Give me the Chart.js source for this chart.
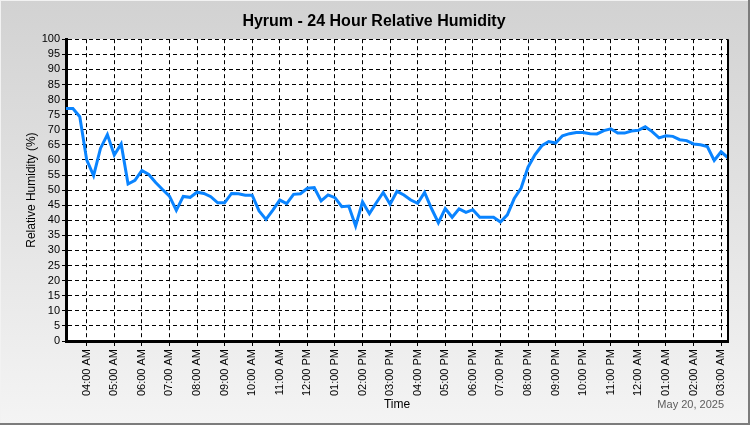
<!DOCTYPE html>
<html>
<head>
<meta charset="utf-8">
<script src="https://cdn.jsdelivr.net/npm/chart.js@4.4.1/dist/chart.umd.min.js"></script>
<style>
  html, body { margin: 0; padding: 0; background: #fff; }
  #wrap { width: 750px; height: 425px; }
</style>
</head>
<body>
<div id="wrap"><canvas id="rhChart" width="750" height="425"></canvas></div>
<script>
// readings every 15 minutes, first one at 03:15 AM
const START_HOUR = 3.25;
const STEP_HOURS = 0.25;

const hourTicks = [4, 5, 6, 7, 8, 9, 10, 11, 12, 13, 14, 15, 16, 17, 18, 19, 20, 21, 22, 23, 24, 25, 26, 27];
const hourLabels = [
  '04:00 AM', '05:00 AM', '06:00 AM', '07:00 AM', '08:00 AM', '09:00 AM', '10:00 AM', '11:00 AM',
  '12:00 PM', '01:00 PM', '02:00 PM', '03:00 PM', '04:00 PM', '05:00 PM', '06:00 PM', '07:00 PM',
  '08:00 PM', '09:00 PM', '10:00 PM', '11:00 PM', '12:00 AM', '01:00 AM', '02:00 AM', '03:00 AM'
];

const humidity = [
  77, 77, 74.3,                         // 03:15 - 03:45
  60, 54.8, 63.8, 68.4,                 // 04
  61.6, 65.3, 52, 53.2,                 // 05
  56.5, 55.2, 52.5, 50.2,               // 06
  48, 43.3, 47.9, 47.6,                 // 07
  49.3, 48.9, 47.8, 45.8,               // 08
  45.8, 48.9, 48.8, 48.3,               // 09
  48.3, 43.1, 40.3, 43.4,               // 10
  46.7, 45.5, 48.6, 48.8,               // 11
  50.6, 50.8, 46.4, 48.4,               // 12
  47.5, 44.5, 44.7, 38.1,               // 13
  46.1, 42.2, 45.8, 49.2,               // 14
  45.3, 49.6, 48.4, 46.7,               // 15
  45.6, 49.2, 43.9, 39.2,               // 16
  43.9, 41, 43.8, 42.6,                 // 17
  43.5, 41, 41, 41,                     // 18
  39.4, 41.8, 47.2, 50.7,               // 19
  57.6, 61.7, 64.7, 66.1,               // 20
  65.6, 68, 68.7, 69.1,                 // 21
  69.1, 68.7, 68.6, 69.7,               // 22
  70.3, 68.9, 68.9, 69.6,               // 23
  69.8, 71, 69.4, 67.3,                 // 00
  68, 67.8, 66.7, 66.4,                 // 01
  65.3, 65, 64.4, 59.8,                 // 02
  62.7, 60.7                            // 03:00 - 03:15
];

const FONT = "'Liberation Sans', Arial, sans-serif";

const points = humidity.map((v, i) => ({ x: START_HOUR + i * STEP_HOURS, y: v }));

const framePlugin = {
  id: 'frame',
  beforeDraw(chart) {
    const { ctx, width, height, chartArea: a } = chart;
    ctx.save();
    const g = ctx.createLinearGradient(0, 0, 0, height);
    g.addColorStop(0, '#d2d2d2');
    g.addColorStop(1, '#f4f4f4');
    ctx.fillStyle = g;
    ctx.fillRect(0, 0, width, height);
    ctx.fillStyle = '#f2f2f2';
    ctx.fillRect(0, 0, width, 1);
    ctx.fillRect(0, 0, 1, height);
    ctx.fillStyle = '#7c7c7c';
    ctx.fillRect(0, height - 2, width, 2);
    ctx.fillRect(width - 2, 0, 2, height);
    ctx.fillStyle = '#ffffff';
    ctx.fillRect(a.left, a.top, a.right - a.left, a.bottom - a.top);
    ctx.restore();
  },
  afterDraw(chart) {
    const { ctx, chartArea: a } = chart;
    ctx.save();
    ctx.strokeStyle = '#000';
    ctx.lineWidth = 2;
    ctx.beginPath();
    ctx.moveTo(a.right, a.top);
    ctx.lineTo(a.right, a.bottom);
    ctx.stroke();
    ctx.fillStyle = '#5c5c5c';
    ctx.font = '11px ' + FONT;
    ctx.textAlign = 'right';
    ctx.textBaseline = 'middle';
    ctx.fillText('May 20, 2025', 724, 405);
    ctx.restore();
  }
};

new Chart(document.getElementById('rhChart'), {
  type: 'line',
  data: {
    datasets: [{
      label: 'Relative Humidity',
      data: points,
      borderColor: '#0a84ff',
      borderWidth: 3,
      pointRadius: 0,
      tension: 0,
      fill: false
    }]
  },
  options: {
    responsive: false,
    animation: false,
    layout: { padding: { left: 20, right: 22, top: 0, bottom: 9 } },
    plugins: {
      legend: { display: false },
      tooltip: { enabled: false },
      title: {
        display: true,
        text: 'Hyrum - 24 Hour Relative Humidity',
        color: '#000',
        font: { family: FONT, size: 16, weight: 'bold' },
        padding: { top: 12, bottom: 8 }
      }
    },
    scales: {
      x: {
        type: 'linear',
        min: START_HOUR,
        max: START_HOUR + 24,
        afterBuildTicks: (scale) => { scale.ticks = hourTicks.map(v => ({ value: v })); },
        afterFit: (scale) => { scale.height = 75; },
        ticks: {
          autoSkip: false,
          minRotation: 90,
          maxRotation: 90,
          padding: 3,
          color: '#000',
          font: { family: FONT, size: 11 },
          callback: (value) => hourLabels[hourTicks.indexOf(value)] || ''
        },
        grid: { color: '#000', lineWidth: 1, tickLength: 5, tickColor: '#000' },
        border: { display: true, color: '#000', width: 3, dash: [4, 3] },
        title: { display: true, text: 'Time', color: '#000', font: { family: FONT, size: 12 } }
      },
      y: {
        min: 0,
        max: 100,
        afterFit: (scale) => { scale.width = 46; },
        ticks: {
          stepSize: 5,
          autoSkip: false,
          padding: 2,
          color: '#000',
          font: { family: FONT, size: 11 }
        },
        grid: { color: '#000', lineWidth: 1, tickLength: 4, tickColor: '#000' },
        border: { display: true, color: '#000', width: 3, dash: [4, 3] },
        title: { display: true, text: 'Relative Humidity (%)', color: '#000', font: { family: FONT, size: 12 } }
      }
    }
  },
  plugins: [framePlugin]
});
</script>
</body>
</html>
